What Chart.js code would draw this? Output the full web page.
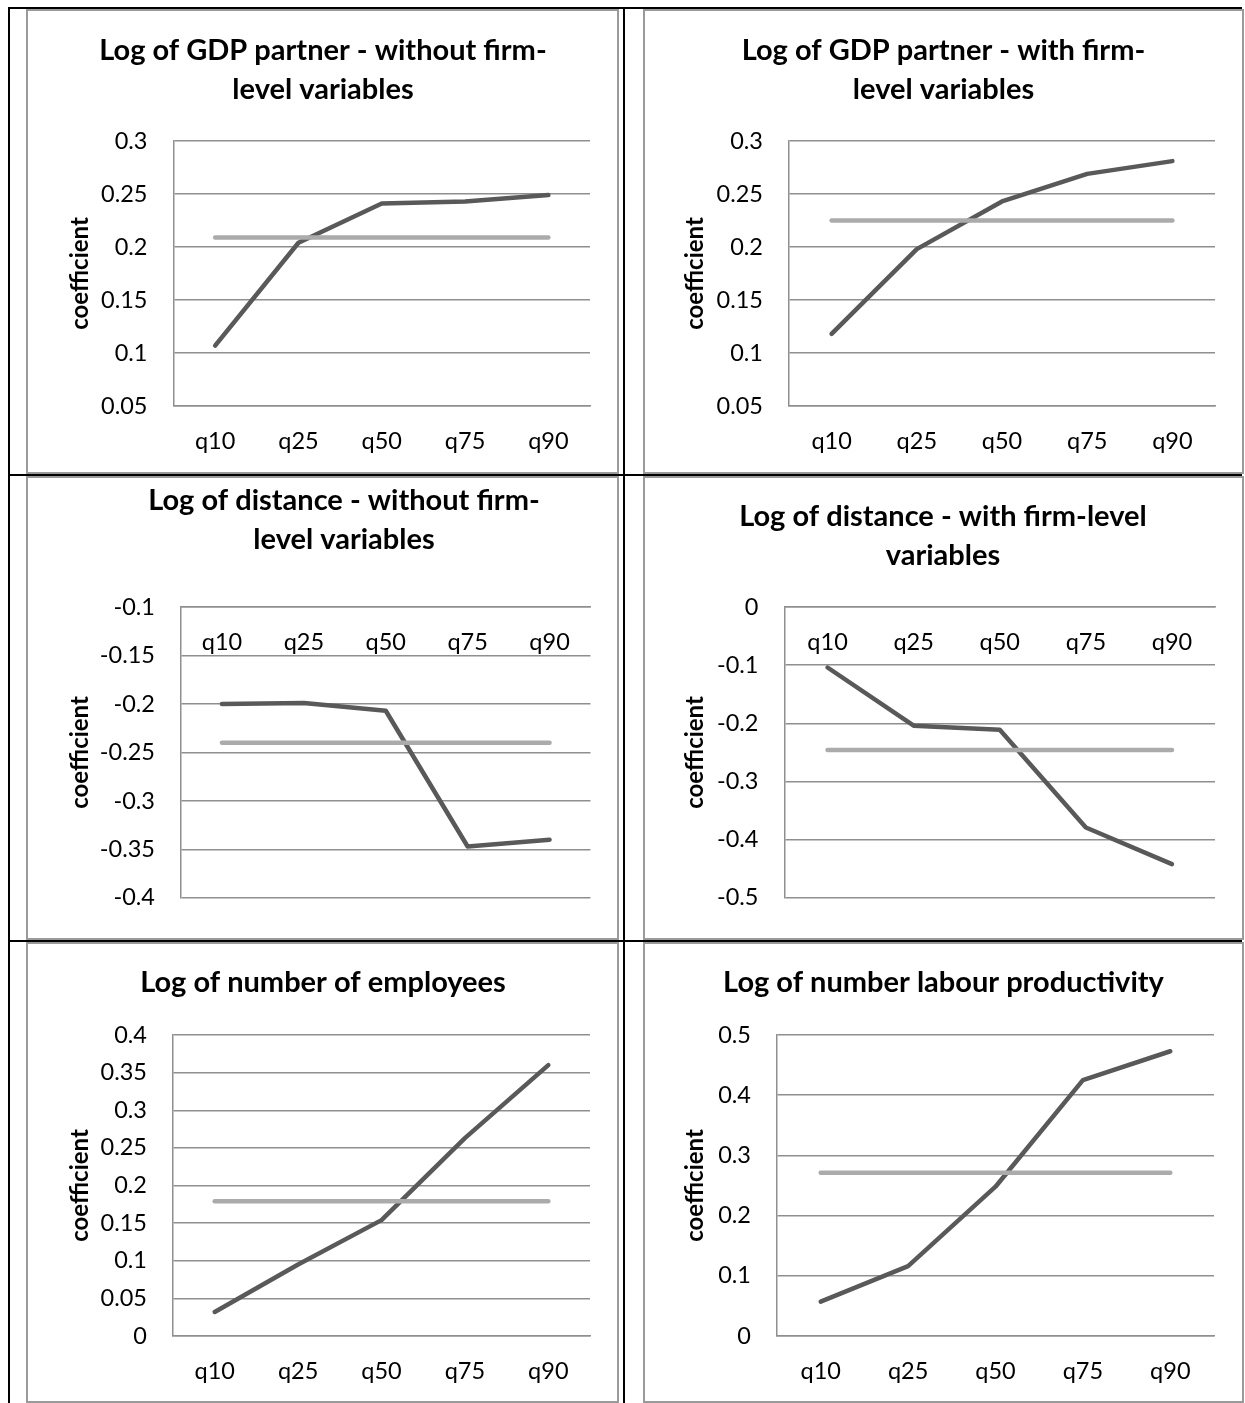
<!DOCTYPE html>
<html>
<head>
<meta charset="utf-8">
<title>Quantile regression coefficients</title>
<script src="https://cdn.jsdelivr.net/npm/chart.js@4.4.1/dist/chart.umd.min.js"></script>
<style>
html,body{margin:0;padding:0;background:#fff;}
body{position:relative;width:1245px;height:1403px;overflow:hidden;font-family:Lato,sans-serif;}
.rule{position:absolute;background:#000;}
.frame{position:absolute;box-sizing:border-box;border:2px solid #9a9a9a;background:#fff;}
canvas{position:absolute;}
</style>
</head>
<body>
<script>
// ---------------- data ----------------
const quantiles = ['q10', 'q25', 'q50', 'q75', 'q90'];

const gdpWithoutFirm     = [0.107, 0.204, 0.241, 0.243, 0.249];
const gdpWithoutFirmOLS  = [0.209, 0.209, 0.209, 0.209, 0.209];
const gdpWithFirm        = [0.118, 0.198, 0.243, 0.269, 0.281];
const gdpWithFirmOLS     = [0.225, 0.225, 0.225, 0.225, 0.225];
const distWithoutFirm    = [-0.200, -0.199, -0.207, -0.347, -0.340];
const distWithoutFirmOLS = [-0.240, -0.240, -0.240, -0.240, -0.240];
const distWithFirm       = [-0.104, -0.204, -0.211, -0.379, -0.442];
const distWithFirmOLS    = [-0.246, -0.246, -0.246, -0.246, -0.246];
const employees          = [0.032, 0.095, 0.154, 0.263, 0.360];
const employeesOLS       = [0.179, 0.179, 0.179, 0.179, 0.179];
const productivity       = [0.057, 0.116, 0.248, 0.425, 0.473];
const productivityOLS    = [0.271, 0.271, 0.271, 0.271, 0.271];

const panelTitles = [
  ['Log of GDP partner - without firm-', 'level variables'],
  ['Log of GDP partner - with firm-', 'level variables'],
  ['Log of distance - without firm-', 'level variables'],
  ['Log of distance - with firm-level', 'variables'],
  'Log of number of employees',
  'Log of number labour productivity'
];
const yAxisTitle = 'coefficient';

const yMin  = [0.05, 0.05, -0.4, -0.5, 0, 0];
const yMax  = [0.3, 0.3, -0.1, 0, 0.4, 0.5];
const yStep = [0.05, 0.05, 0.05, 0.1, 0.05, 0.1];

const seriesMain = [gdpWithoutFirm, gdpWithFirm, distWithoutFirm, distWithFirm, employees, productivity];
const seriesOLS  = [gdpWithoutFirmOLS, gdpWithFirmOLS, distWithoutFirmOLS, distWithFirmOLS, employeesOLS, productivityOLS];

// ---------------- layout (page pixels) ----------------
const panelLayout = [
  {frame: [26, 9, 619, 474],     plot: [173.5, 141, 590, 406],  titleX: 323,   titleMid: 50.5, yTitleX: 80,  axisTop: false},
  {frame: [643, 9, 1244, 474],   plot: [789, 141, 1215, 406],   titleX: 943.5, titleMid: 50.5, yTitleX: 695, axisTop: false},
  {frame: [26, 476, 619, 940],   plot: [181, 607, 590.5, 909],  titleX: 344,   titleMid: 501,  yTitleX: 80,  axisTop: true},
  {frame: [643, 476, 1244, 940], plot: [784.5, 607, 1215, 909], titleX: 943,   titleMid: 517,  yTitleX: 695, axisTop: true},
  {frame: [26, 942, 619, 1403],  plot: [173, 1035, 590, 1336],  titleX: 323,   titleMid: 983,  yTitleX: 80,  axisTop: false},
  {frame: [643, 942, 1244, 1403],plot: [777, 1035, 1214, 1336], titleX: 943.5, titleMid: 983,  yTitleX: 695, axisTop: false}
];
const rules = [
  [8, 7, 2, 1396],      // left outer vertical
  [623, 7, 2, 1396],    // column divider
  [8, 7, 1234, 2],      // top
  [8, 474, 1234, 2],    // row divider 1
  [8, 940, 1234, 2]     // row divider 2
];

const FONT = 'Lato';
const titleFont = {family: FONT, size: 29, weight: 'bold'};
const titleLineHeight = 39;
const tickFont = {family: FONT, size: 23.5};
const yTitleFont = {family: FONT, size: 24, weight: 'bold'};
const labelGap = 35;   // axis line -> middle of category labels
const darkColor = '#595959';
const lightColor = '#ababab';
const gridColor = '#8f8f8f';

function fmt(v) {
  const n = Number(Number(v).toFixed(3));
  return (n === 0 ? 0 : n).toString();
}

function build() {
  rules.forEach(r => {
    const d = document.createElement('div');
    d.className = 'rule';
    d.style.left = r[0] + 'px'; d.style.top = r[1] + 'px';
    d.style.width = r[2] + 'px'; d.style.height = r[3] + 'px';
    document.body.appendChild(d);
  });

  panelLayout.forEach((L, i) => {
    const [fl, ft, fr, fb] = L.frame;
    const bw = 2;
    const frame = document.createElement('div');
    frame.className = 'frame';
    frame.style.left = fl + 'px'; frame.style.top = ft + 'px';
    frame.style.width = (fr - fl) + 'px'; frame.style.height = (fb - ft) + 'px';
    document.body.appendChild(frame);

    const cl = fl + bw, ct = ft + bw, cw = fr - fl - 2 * bw, ch = fb - ft - 2 * bw;
    const canvas = document.createElement('canvas');
    canvas.width = cw; canvas.height = ch;
    canvas.style.left = cl + 'px'; canvas.style.top = ct + 'px';
    canvas.style.width = cw + 'px'; canvas.style.height = ch + 'px';
    document.body.appendChild(canvas);

    const [pl, pt, pr, pb] = L.plot;
    const padR = cl + cw - pr;
    const padL = 2 * (L.titleX - cl) - cw + padR;
    const title = panelTitles[i];
    const nLines = Array.isArray(title) ? title.length : 1;
    const tPadTop = L.titleMid - titleLineHeight / 2 - ct;
    const tPadBottom = (pt - ct) - tPadTop - nLines * titleLineHeight;
    const yAxisWidth = pl - cl - padL;
    const yTitleLH = yTitleFont.size * 1.2;
    const yTitlePad = L.yTitleX - (cl + padL) - yTitleLH / 2;
    const tickLH = tickFont.size * 1.2;
    const xPad = labelGap - tickLH / 2;
    const bottomSpace = ct + ch - pb;

    const xScale = {
      type: 'category',
      offset: true,
      grid: {display: false, drawTicks: false},
      border: {display: true, color: gridColor, width: 1.5},
      ticks: {font: tickFont, color: '#000', padding: xPad, autoSkip: false, maxRotation: 0}
    };
    if (L.axisTop) {
      xScale.position = {y: yMax[i]};
    } else {
      xScale.position = 'bottom';
      xScale.afterFit = s => { s.height = bottomSpace; };
    }

    new Chart(canvas, {
      type: 'line',
      data: {
        labels: quantiles,
        datasets: [
          {label: 'quantile', data: seriesMain[i], borderColor: darkColor, borderWidth: 4.5,
           pointRadius: 0, tension: 0, borderJoinStyle: 'round', borderCapStyle: 'round', order: 1},
          {label: 'OLS', data: seriesOLS[i], borderColor: lightColor, borderWidth: 4.5,
           pointRadius: 0, tension: 0, borderCapStyle: 'round', order: 0}
        ]
      },
      options: {
        responsive: false,
        animation: false,
        devicePixelRatio: 1,
        layout: {padding: {left: padL, right: padR, top: 0, bottom: L.axisTop ? bottomSpace : 0}},
        plugins: {
          legend: {display: false},
          tooltip: {enabled: false},
          title: {
            display: true, text: title, color: '#000',
            font: Object.assign({}, titleFont, {lineHeight: titleLineHeight / titleFont.size}),
            padding: {top: tPadTop, bottom: tPadBottom}
          }
        },
        scales: {
          x: xScale,
          y: {
            type: 'linear', position: 'left',
            min: yMin[i], max: yMax[i],
            grid: {color: gridColor, lineWidth: 1.5, drawTicks: false},
            border: {display: true, color: gridColor, width: 1.5},
            ticks: {stepSize: yStep[i], font: tickFont, color: '#000', padding: 26, autoSkip: false, callback: v => fmt(v)},
            title: {display: true, text: yAxisTitle, color: '#000', font: yTitleFont, padding: {top: yTitlePad, bottom: 0}},
            afterFit: s => { s.width = yAxisWidth; }
          }
        }
      }
    });
  });
}

Promise.all([
  document.fonts.load('bold 29px Lato'),
  document.fonts.load('23px Lato')
]).then(build, build);
</script>
</body>
</html>
